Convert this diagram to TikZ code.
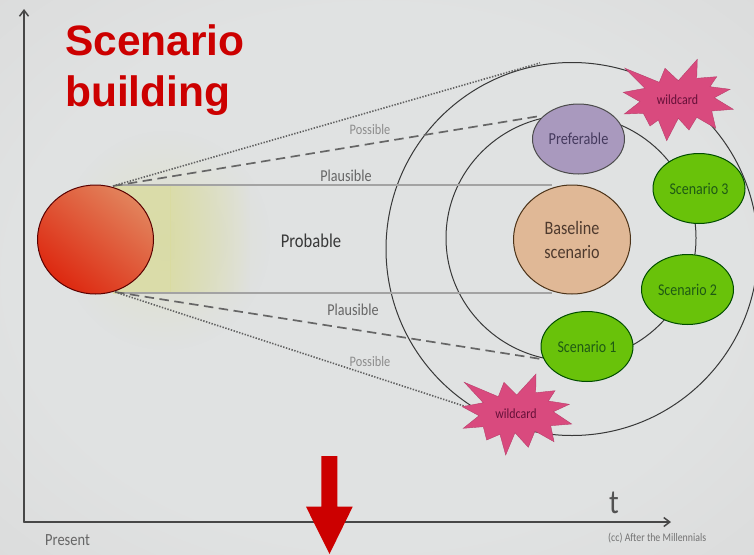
\documentclass[tikz,border=0pt]{standalone}
\usepackage{fontspec}
\setmainfont[FakeStretch=0.85]{Carlito}
\newfontfamily\titlefont{Liberation Sans}
\usetikzlibrary{arrows.meta,shapes.geometric,fadings}
\definecolor{bgin}{HTML}{E0E2E2}
\definecolor{bgout}{HTML}{D9D9D9}
\definecolor{glowc}{HTML}{D9DB9F}
\definecolor{green4}{HTML}{69C20A}
\definecolor{pinkc}{HTML}{D94A7E}
\definecolor{wineink}{HTML}{651038}
\definecolor{sunlight}{HTML}{E2835C}
\definecolor{sundeep}{HTML}{DD2810}
\definecolor{lilac}{HTML}{A999BE}
\definecolor{tan1}{HTML}{E0B896}
\definecolor{titlered}{HTML}{CC0000}
\definecolor{greentxt}{HTML}{1F5A14}
\definecolor{preftxt}{HTML}{453A5E}
\definecolor{basetxt}{HTML}{4E3A2E}
\pgfdeclareradialshading{bgshade}{\pgfpoint{0bp}{0bp}}{color(0bp)=(bgin); color(24bp)=(bgin); color(42bp)=(bgout); color(50bp)=(bgout)}
\tikzfading[name=glowradial, inner color=transparent!0, outer color=transparent!100]
\tikzfading[name=glowright, left color=transparent!0, right color=transparent!100]
\tikzset{
  x=1pt,y=-1pt,
  axisline/.style={draw=black!72,line width=1.7pt,-{Straight Barb[length=6pt,width=9pt,line width=1.5pt]},line cap=round},
  ring/.style={draw=black!78,line width=1pt},
  flat/.style={draw=black!36,line width=1.2pt},
  dashln/.style={draw=black!60,line width=1.7pt,dash pattern=on 9.5pt off 5.5pt},
  dotln/.style={draw=black!62,line width=1.6pt,dash pattern=on 1.4pt off 1.5pt},
  blob/.style={ellipse,draw=#1,line width=1pt,inner sep=0pt,align=center},
  greenblob/.style={blob=black!70!green,fill=green4,minimum width=92pt,minimum height=70pt,text=greentxt,font=\fontsize{16.4}{18}\selectfont},
  star/.style={fill=pinkc,draw=pinkc!85!black,line width=0.4pt,line join=miter},
  wildtxt/.style={font=\fontsize{14}{16}\selectfont,text=wineink,inner sep=0pt},
  greylbl/.style={text=black!45,inner sep=0pt,font=\fontsize{14.5}{16}\selectfont},
  midlbl/.style={text=black!60,inner sep=0pt,font=\fontsize{16.6}{18}\selectfont},
}
\begin{document}
\begin{tikzpicture}
\useasboundingbox (0,0) rectangle (754,554);
\shade[shading=bgshade] (0,0) rectangle (754,554);
% glow
\fill[glowc,opacity=.35,path fading=glowradial] (60,130) rectangle (270,350);
\fill[glowc,opacity=.8] (113,185) rectangle (170.5,294);
\fill[glowc,opacity=.8,path fading=glowright] (170,185) rectangle (250,294);
% rings
\node[ellipse,ring,minimum width=372pt,minimum height=373pt,inner sep=0pt] (outer) at (572,249) {};
\node[ellipse,ring,minimum width=250pt,minimum height=246pt,inner sep=0pt] (inner) at (571,238) {};
% named anchors
\coordinate (sunUp) at (113,186);
\coordinate (sunDown) at (115,292);
\coordinate (upDot) at (540,63);
\coordinate (upDash) at (540,116);
\coordinate (upFlat) at (552,185);
\coordinate (sunFlatUp) at (118,185);
\coordinate (sunFlatDown) at (118,293);
\coordinate (downFlat) at (552,293);
\coordinate (downDash) at (541,359);
\coordinate (downDot) at (470,408);
\draw[flat] (sunFlatUp) -- (upFlat);
\draw[flat] (sunFlatDown) -- (downFlat);
\draw[dotln] (sunUp) -- (upDot);
\draw[dashln] (sunUp) -- (upDash);
\draw[dashln] (sunDown) -- (downDash);
\draw[dotln] (sunDown) -- (downDot);
% sun
\node[ellipse,draw=black!65!red,line width=1pt,minimum width=116pt,minimum height=109pt,inner sep=0pt,shading=axis,top color=sunlight,bottom color=sundeep,shading angle=-40] (sun) at (95.5,239.5) {};
% scenario nodes
\node[blob=black!70,fill=lilac,minimum width=92pt,minimum height=70pt,text=preftxt,font=\fontsize{16.8}{19}\selectfont] (pref) at (578.5,139) {Preferable};
\node[blob=black!60!brown,fill=tan1,minimum width=117pt,minimum height=109pt,text=basetxt,font=\fontsize{19}{24}\selectfont] (base) at (572,239.5) {Baseline\\scenario};
\node[greenblob] (s3) at (699,188.5) {Scenario 3};
\node[greenblob] (s2) at (687.5,289.5) {Scenario 2};
\node[greenblob] (s1) at (587,346.5) {Scenario 1};
% stars
\fill[star] (625,68.3)--(659.3,82.3)--(665,68.3)--(678.3,80.7)--(697.3,59.3)--(696.7,78.3)--(716.7,76.7)--(710,86.7)--(730,89.3)--(714.3,97.7)--(733.3,109.3)--(711.7,111)--(715.7,128.3)--(696.7,117.3)--(689,130)--(678.3,118.3)--(666.7,140.7)--(658.3,120)--(650,126)--(643.3,113.3)--(624.3,114)--(640,101.7)--(623.3,92.3)--(645,88.3)--cycle;
\fill[star] (464.3,382.3)--(498.3,396.7)--(504,382.3)--(516.7,395)--(536,374)--(535.7,392.7)--(555,390.7)--(548.3,401)--(569.3,404.3)--(553.3,411.7)--(571.7,424)--(550.7,425.7)--(554,441.7)--(535,431)--(528.3,447.3)--(515,432.7)--(505.7,455)--(500,434.3)--(486.7,440)--(483.3,426.7)--(463.3,428.3)--(479,415.7)--(462.3,406.7)--(483.3,402.7)--cycle;
\node[wildtxt] (wc1) at (677.5,99.5) {wildcard};
\node[wildtxt] (wc2) at (516,413.5) {wildcard};
% axes
\coordinate (origin) at (24,522);
\coordinate (ytop) at (24,9);
\coordinate (xend) at (671,522);
\draw[axisline] (origin) -- (ytop);
\draw[axisline] (origin) -- (xend);
% labels
\node[greylbl] (pos1) at (370,130) {Possible};
\node[midlbl] (pla1) at (346,176) {Plausible};
\node[text=black!78,inner sep=0pt,font=\fontsize{19.5}{21}\selectfont] (prob) at (311,241) {Probable};
\node[midlbl] (pla2) at (353,310) {Plausible};
\node[greylbl] (pos2) at (370,362) {Possible};
\node[midlbl,anchor=west,font=\fontsize{17}{19}\selectfont] (pres) at (45,540) {Present};
\node[text=black!68,inner sep=0pt,font=\fontsize{34}{36}\selectfont] (tlab) at (614,503) {t};
\node[text=black!55,inner sep=0pt,anchor=west,font=\fontsize{11.6}{13}\selectfont] (cc) at (608,538) {(cc) After the Millennials};
% title
\node[anchor=base west,inner sep=0pt,text=titlered,font=\fontsize{42.5}{51.7}\selectfont\bfseries\titlefont] (title) at (65,55) {Scenario};
\node[anchor=base west,inner sep=0pt,text=titlered,font=\fontsize{42.5}{51.7}\selectfont\bfseries\titlefont] (title2) at (65,106.7) {building};
% red arrow
\fill[titlered] (321.3,456)--(337.3,456)--(337.3,506.7)--(352.7,506.7)--(329.5,554)--(306,506.7)--(321.3,506.7)--cycle;
\end{tikzpicture}
\end{document}
